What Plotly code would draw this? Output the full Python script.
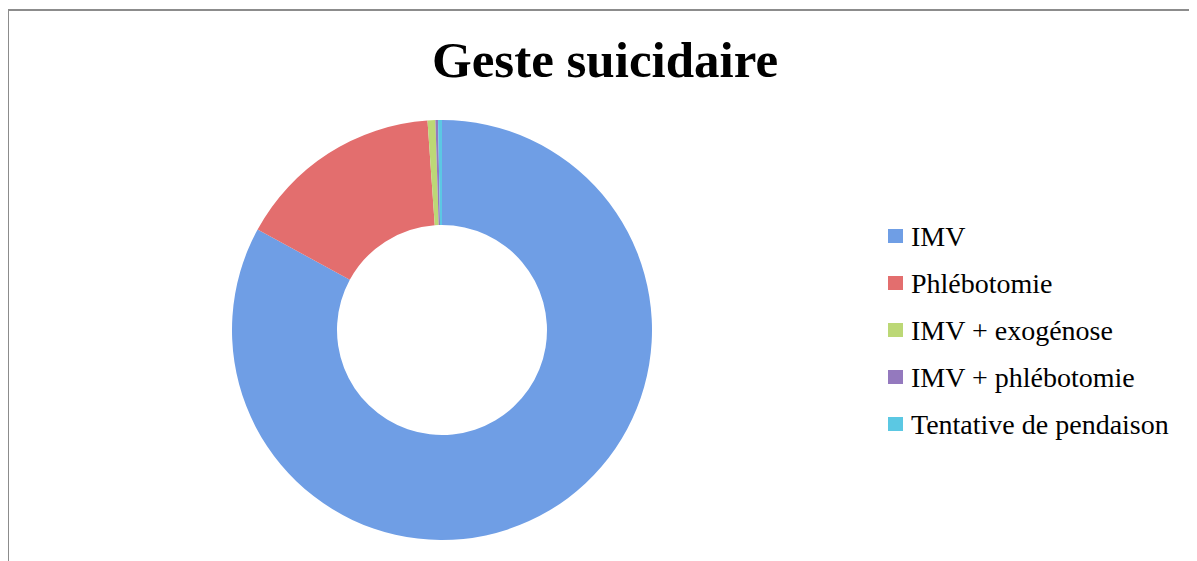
import plotly.graph_objects as go

title = "Geste suicidaire"
labels = ["IMV", "Phlébotomie", "IMV + exogénose", "IMV + phlébotomie", "Tentative de pendaison"]
values = [82.9, 15.95, 0.6, 0.2, 0.3]
colors = ["#6F9EE5", "#E36E6E", "#BCD876", "#9479BE", "#5BC8E3"]

W, H = 1197, 561
OX, OY = 8, 8  # page body margin offset
cx, cy, R = 442 - OX, 330 - OY, 210

def px(x):
    return (x - OX) / W

def py(y):
    return 1 - (y - OY) / H

fig = go.Figure()
fig.add_trace(go.Pie(
    labels=labels, values=values, sort=False, direction="clockwise", rotation=0,
    hole=0.5, textinfo="none", showlegend=False,
    marker=dict(colors=colors, line=dict(width=0)),
    domain=dict(x=[(cx - R) / W, (cx + R) / W], y=[(H - cy - R) / H, (H - cy + R) / H]),
))

shapes = [dict(type="rect", xref="paper", yref="paper",
               x0=px(8), x1=1.05, y0=-0.05, y1=py(10),
               line=dict(color="#8c8c8c", width=2), fillcolor="rgba(0,0,0,0)", layer="below")]
annotations = [dict(text="<b>" + title + "</b>", x=px(605), y=py(60), xref="paper", yref="paper",
                    showarrow=False, xanchor="center", yanchor="middle",
                    font=dict(family="Liberation Serif", size=51, color="#000"))]

ly0, dy = 236, 47
for i, (lab, col) in enumerate(zip(labels, colors)):
    yc = ly0 + i * dy
    shapes.append(dict(type="rect", xref="paper", yref="paper",
                       x0=px(888), x1=px(903), y0=py(yc + 7), y1=py(yc - 7),
                       fillcolor=col, line=dict(width=0)))
    annotations.append(dict(text=lab, x=px(909), y=py(yc), xref="paper", yref="paper",
                            showarrow=False, xanchor="left", yanchor="middle",
                            font=dict(family="Liberation Serif", size=28, color="#000")))

fig.update_layout(width=W, height=H, margin=dict(l=0, r=0, t=0, b=0),
                  paper_bgcolor="white", plot_bgcolor="white",
                  shapes=shapes, annotations=annotations)
fig.write_html("out.html")
